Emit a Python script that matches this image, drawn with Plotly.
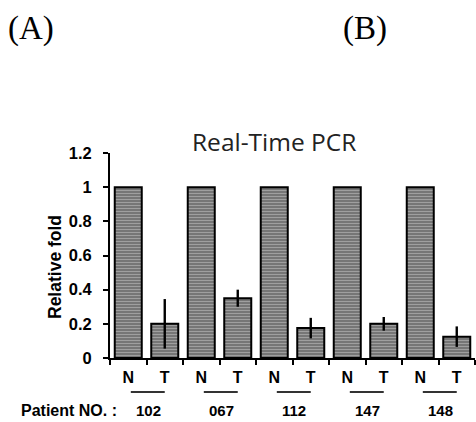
import plotly.graph_objects as go

patients = ["102", "067", "112", "147", "148"]
groups = ["N", "T"]
normal_vals = [1, 1, 1, 1, 1]
tumor_vals = [0.20, 0.35, 0.175, 0.20, 0.125]
tumor_err = [0.145, 0.05, 0.06, 0.04, 0.06]
y_ticks = [0, 0.2, 0.4, 0.6, 0.8, 1, 1.2]
y_ticklabels = ["0", "0.2", "0.4", "0.6", "0.8", "1", "1.2"]

cats, vals, errs, labels = [], [], [], []
for p, n, t, e in zip(patients, normal_vals, tumor_vals, tumor_err):
    cats += [groups[0] + p, groups[1] + p]
    vals += [n, t]
    errs += [0, e]
    labels += groups

W, H = 476, 422
ml, mr, mt, mb = 110, 1, 153, 64
pw = W - ml - mr
ph = H - mt - mb

def px_x(px):
    return (px - ml) / pw

def px_y(py):
    return (H - mb - py) / ph

fig = go.Figure()
fig.add_trace(go.Bar(
    x=cats, y=vals,
    marker=dict(
        color="#767676",
        line=dict(color="black", width=2),
        pattern=dict(shape="-", fgcolor="#c8c8c8", size=3, solidity=0.35, fillmode="overlay"),
    ),
    error_y=dict(type="data", array=errs, color="black", thickness=2.4, width=0, visible=True),
    showlegend=False,
))

bold = dict(family="Liberation Sans", color="black", weight="bold")
shapes = []
annotations = []
for i, p in enumerate(patients):
    base = 2 * i
    shapes.append(dict(type="line", xref="x", yref="paper",
                       x0=base + 0.07, x1=base + 1.0, y0=px_y(392), y1=px_y(392),
                       line=dict(color="#333", width=2)))
    annotations.append(dict(text=p, xref="x", yref="paper", x=base + 0.55, y=px_y(410),
                            xanchor="center", yanchor="middle",
                            showarrow=False, font=dict(**bold, size=15)))

annotations += [
    dict(text="Patient NO. :", xref="paper", yref="paper", x=px_x(19), y=px_y(410),
         xanchor="left", yanchor="middle",
         showarrow=False, font=dict(**bold, size=16)),
    dict(text="Relative fold", xref="paper", yref="paper", x=px_x(55), y=px_y(267), textangle=-90,
         xanchor="center", yanchor="middle",
         showarrow=False, font=dict(**bold, size=17.5)),
    dict(text="Real-Time PCR", xref="paper", yref="paper", x=px_x(274), y=px_y(141),
         xanchor="center", yanchor="middle",
         showarrow=False, font=dict(family="Open Sans", size=24.5, color="#222")),
    dict(text="(A)", xref="paper", yref="paper", x=px_x(31), y=px_y(29),
         xanchor="center", yanchor="middle",
         showarrow=False, font=dict(family="Liberation Serif", size=33, color="black")),
    dict(text="(B)", xref="paper", yref="paper", x=px_x(365), y=px_y(29),
         xanchor="center", yanchor="middle",
         showarrow=False, font=dict(family="Liberation Serif", size=33, color="black")),
]

fig.update_layout(
    width=W, height=H,
    margin=dict(l=ml, r=mr, t=mt, b=mb),
    paper_bgcolor="white", plot_bgcolor="white",
    bargap=0.26,
    shapes=shapes, annotations=annotations,
)
fig.update_xaxes(
    type="category", range=[-0.5, 9.5],
    tickmode="array", tickvals=cats, ticktext=labels, tickson="boundaries",
    ticks="outside", ticklen=5, tickwidth=2, tickcolor="black",
    showline=True, linecolor="black", linewidth=2, showgrid=False,
    tickfont=dict(**bold, size=16),
    ticklabelstandoff=4,
)
fig.update_yaxes(
    range=[0, 1.2], tickmode="array", tickvals=y_ticks, ticktext=y_ticklabels,
    ticks="outside", ticklen=5, tickwidth=2, tickcolor="black",
    showline=True, linecolor="black", linewidth=2, showgrid=False, zeroline=False,
    tickfont=dict(**bold, size=16.5),
    ticklabelstandoff=8,
)

fig.write_html("out.html", config={"displayModeBar": False},
               post_script="document.body.style.margin='0';document.body.style.overflow='hidden';")
